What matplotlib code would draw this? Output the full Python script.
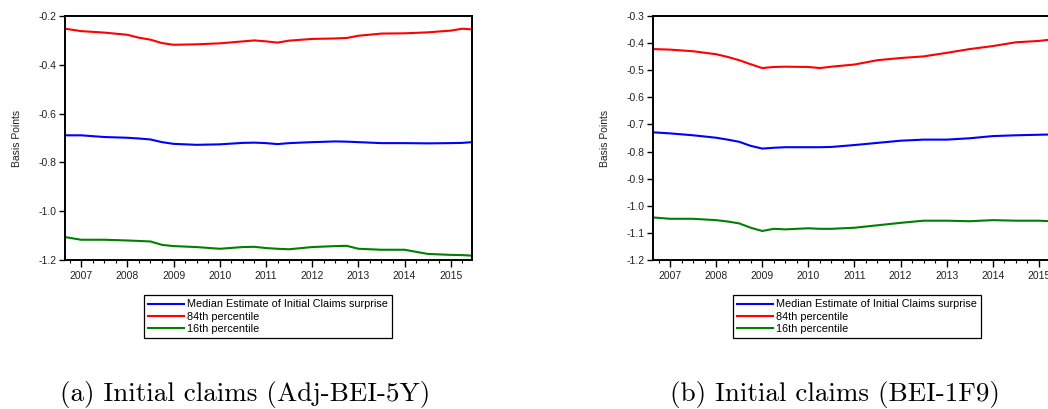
import matplotlib
matplotlib.use("Agg")
import matplotlib.pyplot as plt
from matplotlib.ticker import MultipleLocator, FormatStrFormatter, FuncFormatter

plt.rcParams['font.family'] = ['Liberation Sans', 'DejaVu Sans']
plt.rcParams['axes.unicode_minus'] = False

# ---- Panel (a): Initial claims (Adj-BEI-5Y) ----
dates_a = [2006.65, 2007, 2007.5, 2008, 2008.25, 2008.5, 2008.75, 2009, 2009.5, 2010,
           2010.5, 2010.75, 2011, 2011.25, 2011.5, 2012, 2012.5, 2012.75, 2013, 2013.5,
           2014, 2014.5, 2015, 2015.25, 2015.46]
median_a = [-0.689, -0.689, -0.696, -0.699, -0.702, -0.706, -0.717, -0.724, -0.728, -0.726,
            -0.720, -0.719, -0.721, -0.725, -0.721, -0.717, -0.714, -0.715, -0.717, -0.721,
            -0.721, -0.722, -0.721, -0.720, -0.717]
p84_a = [-0.252, -0.262, -0.268, -0.277, -0.289, -0.297, -0.311, -0.318, -0.316, -0.312,
         -0.304, -0.300, -0.304, -0.309, -0.301, -0.294, -0.292, -0.290, -0.281, -0.272,
         -0.271, -0.267, -0.260, -0.252, -0.255]
p16_a = [-1.106, -1.117, -1.117, -1.120, -1.122, -1.124, -1.138, -1.143, -1.147, -1.154,
         -1.147, -1.146, -1.151, -1.154, -1.156, -1.147, -1.143, -1.142, -1.154, -1.158,
         -1.158, -1.175, -1.179, -1.180, -1.182]

# ---- Panel (b): Initial claims (BEI-1F9) ----
dates_b = [2006.63, 2007, 2007.5, 2008, 2008.25, 2008.5, 2008.75, 2009, 2009.25, 2009.5,
           2010, 2010.25, 2010.5, 2011, 2011.5, 2012, 2012.5, 2013, 2013.5, 2014,
           2014.5, 2015, 2015.25, 2015.46]
median_b = [-0.729, -0.733, -0.740, -0.749, -0.756, -0.764, -0.779, -0.789, -0.786, -0.784,
            -0.784, -0.784, -0.783, -0.776, -0.768, -0.760, -0.756, -0.756, -0.751, -0.743,
            -0.740, -0.738, -0.737, -0.736]
p84_b = [-0.422, -0.424, -0.430, -0.441, -0.451, -0.463, -0.478, -0.492, -0.488, -0.487,
         -0.488, -0.492, -0.487, -0.479, -0.463, -0.455, -0.449, -0.436, -0.422, -0.411,
         -0.397, -0.392, -0.387, -0.386]
p16_b = [-1.043, -1.048, -1.048, -1.053, -1.058, -1.065, -1.081, -1.093, -1.085, -1.087,
         -1.083, -1.085, -1.085, -1.081, -1.072, -1.063, -1.055, -1.055, -1.057, -1.053,
         -1.055, -1.055, -1.057, -1.060]

labels = ['Median Estimate of Initial Claims surprise', '84th percentile', '16th percentile']
colors = ['#0000ff', '#ff0000', '#008000']
captions = ['(a) Initial claims (Adj-BEI-5Y)', '(b) Initial claims (BEI-1F9)']

W, H = 1048, 409
fig = plt.figure(figsize=(W / 100, H / 100), dpi=100)


def px_axes(x0, x1, y0, y1):
    return fig.add_axes([x0 / W, 1 - y1 / H, (x1 - x0) / W, (y1 - y0) / H])


panels = [
    dict(ax=px_axes(65, 472, 16, 260), dates=dates_a, series=[median_a, p84_a, p16_a],
         ylim=(-1.2, -0.2), ystep=0.2, xlim=(2006.65, 2015.46), leg_x=268, cap_x=245),
    dict(ax=px_axes(653, 1060, 16, 260), dates=dates_b, series=[median_b, p84_b, p16_b],
         ylim=(-1.2, -0.3), ystep=0.1, xlim=(2006.63, 2015.46), leg_x=857, cap_x=835),
]

for i, p in enumerate(panels):
    ax = p['ax']
    handles = []
    for s, c, lab in zip(p['series'], colors, labels):
        h, = ax.plot(p['dates'], s, color=c, lw=1.5, label=lab)
        handles.append(h)
    ax.set_xlim(*p['xlim'])
    ax.set_ylim(*p['ylim'])
    ax.xaxis.set_major_locator(MultipleLocator(1))
    ax.xaxis.set_minor_locator(MultipleLocator(0.25))
    ax.xaxis.set_major_formatter(FuncFormatter(lambda v, pos: f"{int(round(v))}"))
    ax.yaxis.set_major_locator(MultipleLocator(p['ystep']))
    ax.yaxis.set_major_formatter(FormatStrFormatter('%.1f'))
    ax.tick_params(axis='both', which='major', direction='out', length=4, width=1,
                   labelsize=7.5, color='black', labelcolor='#222222', pad=2)
    ax.tick_params(axis='x', which='minor', direction='out', length=2, width=0.8)
    ax.tick_params(axis='x', which='major', length=5, pad=3)
    for sp in ax.spines.values():
        sp.set_linewidth(1.4)
    ax.set_ylabel('Basis Points', fontsize=7.5, color='#222222', labelpad=12)
    leg = ax.legend(handles=handles, loc='upper center',
                    bbox_to_anchor=(p['leg_x'] / W, 1 - 295 / H),
                    bbox_transform=fig.transFigure,
                    fontsize=7.8, frameon=True, fancybox=False, framealpha=1,
                    edgecolor='black', handlelength=3.3, handletextpad=0.3,
                    labelspacing=0.22, borderpad=0.4, borderaxespad=0)
    leg.get_frame().set_linewidth(0.9)
    fig.text(p['cap_x'] / W, 1 - 395 / H, captions[i], ha='center', va='center',
             fontsize=19.5, family=['cmr10', 'DejaVu Serif'])

fig.savefig('out.png', dpi=100)
